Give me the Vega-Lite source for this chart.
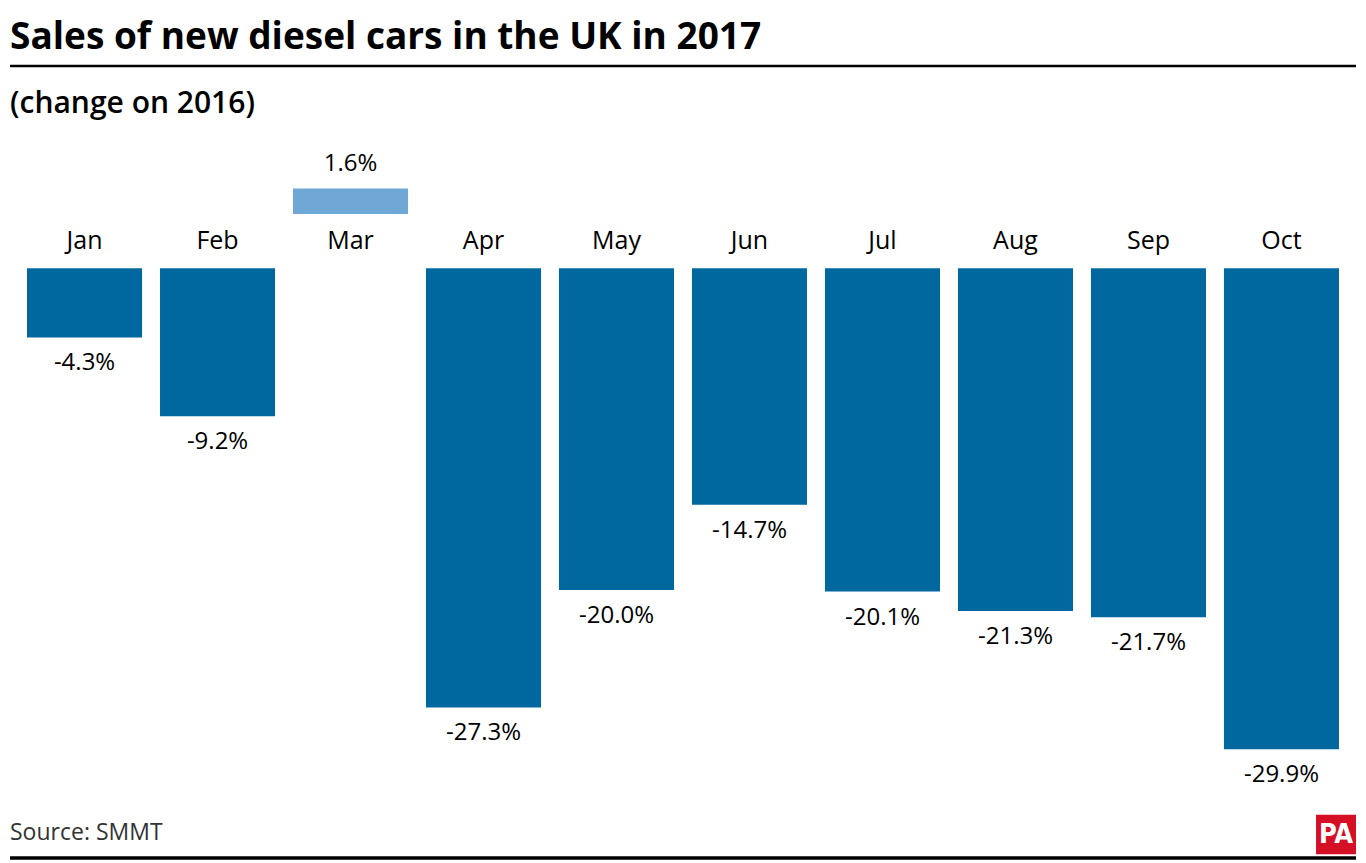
{
  "$schema": "https://vega.github.io/schema/vega-lite/v6.json",
  "background": "white",
  "padding": {"left": 8, "right": 10, "top": 18, "bottom": 0},
  "autosize": {"type": "pad"},
  "bounds": "flush",
  "spacing": 0,
  "config": {"view": {"stroke": null}, "font": "Open Sans"},
  "title": {"text": "Sales of new diesel cars in the UK in 2017", "anchor": "start", "frame": "group", "fontSize": 37, "fontWeight": "bold", "font": "Open Sans", "color": "#000000", "baseline": "alphabetic", "offset": -21},
  "datasets": {
    "sales": [
      {"month": "Jan", "change": -4.3, "label": "-4.3%"},
      {"month": "Feb", "change": -9.2, "label": "-9.2%"},
      {"month": "Mar", "change": 1.6, "label": "1.6%"},
      {"month": "Apr", "change": -27.3, "label": "-27.3%"},
      {"month": "May", "change": -20.0, "label": "-20.0%"},
      {"month": "Jun", "change": -14.7, "label": "-14.7%"},
      {"month": "Jul", "change": -20.1, "label": "-20.1%"},
      {"month": "Aug", "change": -21.3, "label": "-21.3%"},
      {"month": "Sep", "change": -21.7, "label": "-21.7%"},
      {"month": "Oct", "change": -29.9, "label": "-29.9%"}
    ],
    "header": [{"text": "(change on 2016)"}],
    "footer": [{"source": "Source: SMMT", "logo": "PA"}]
  },
  "vconcat": [
    {
      "width": 1346,
      "height": 116,
      "data": {"name": "header"},
      "layer": [
        {
          "mark": {"type": "rule", "color": "#000000", "strokeWidth": 2.5},
          "encoding": {"y": {"datum": 1, "type": "quantitative", "scale": {"domain": [0, 1], "nice": false}, "axis": null}}
        },
        {
          "mark": {"type": "text", "align": "left", "baseline": "middle", "fontSize": 30, "fontWeight": 600, "color": "#000000"},
          "encoding": {
            "x": {"datum": 0, "type": "quantitative", "scale": {"domain": [0, 1], "nice": false}, "axis": null},
            "y": {"datum": 0.67, "type": "quantitative"},
            "text": {"field": "text"}
          }
        }
      ]
    },
    {
      "width": 1346,
      "height": 32,
      "data": {"name": "sales"},
      "transform": [{"filter": "datum.change > 0"}],
      "encoding": {
        "x": {"field": "month", "type": "nominal", "sort": null,
              "scale": {"domain": ["Jan","Feb","Mar","Apr","May","Jun","Jul","Aug","Sep","Oct"], "paddingInner": 0.135, "paddingOuter": 0.128},
              "axis": {"orient": "bottom", "title": null, "domain": false, "ticks": false, "labelAngle": 0, "labelFontSize": 25, "labelColor": "#000000", "labelPadding": 14, "labelFont": "Open Sans"}},
        "y": {"field": "change", "type": "quantitative", "scale": {"domain": [0, 2], "nice": false}, "axis": null}
      },
      "layer": [
        {"mark": {"type": "bar", "color": "#6fa8d6"}},
        {"mark": {"type": "text", "baseline": "bottom", "dy": -12, "fontSize": 24, "color": "#000000"}, "encoding": {"text": {"field": "label"}}}
      ]
    },
    {
      "width": 1346,
      "height": 553,
      "data": {"name": "sales"},
      "transform": [{"filter": "datum.change < 0"}],
      "encoding": {
        "x": {"field": "month", "type": "nominal", "sort": null,
              "scale": {"domain": ["Jan","Feb","Mar","Apr","May","Jun","Jul","Aug","Sep","Oct"], "paddingInner": 0.135, "paddingOuter": 0.128},
              "axis": null},
        "y": {"field": "change", "type": "quantitative", "scale": {"domain": [-31, 3.37], "nice": false}, "axis": null}
      },
      "layer": [
        {"mark": {"type": "bar", "color": "#00679f"}},
        {"mark": {"type": "text", "baseline": "top", "dy": 14, "fontSize": 24, "color": "#000000"}, "encoding": {"text": {"field": "label"}}}
      ]
    },
    {
      "width": 1346,
      "height": 91,
      "data": {"name": "footer"},
      "layer": [
        {
          "mark": {"type": "rule", "color": "#000000", "strokeWidth": 3.5},
          "encoding": {"y": {"datum": 0, "type": "quantitative", "scale": {"domain": [0, 1], "nice": false}, "axis": null}}
        },
        {
          "mark": {"type": "text", "align": "left", "baseline": "middle", "fontSize": 23, "color": "#333333"},
          "encoding": {
            "x": {"datum": 0, "type": "quantitative", "scale": {"domain": [0, 1], "nice": false}, "axis": null},
            "y": {"datum": 0.27, "type": "quantitative"},
            "text": {"field": "source"}
          }
        },
        {
          "mark": {"type": "rect", "color": "#d50f25"},
          "encoding": {
            "x": {"datum": 0.9703, "type": "quantitative"},
            "x2": {"datum": 1},
            "y": {"datum": 0.04, "type": "quantitative"},
            "y2": {"datum": 0.475}
          }
        },
        {
          "mark": {"type": "text", "align": "center", "baseline": "middle", "fontSize": 27, "fontWeight": "bold", "font": "DejaVu Sans Condensed", "color": "#ffffff"},
          "encoding": {
            "x": {"datum": 0.9852, "type": "quantitative"},
            "y": {"datum": 0.255, "type": "quantitative"},
            "text": {"field": "logo"}
          }
        }
      ]
    }
  ]
}
